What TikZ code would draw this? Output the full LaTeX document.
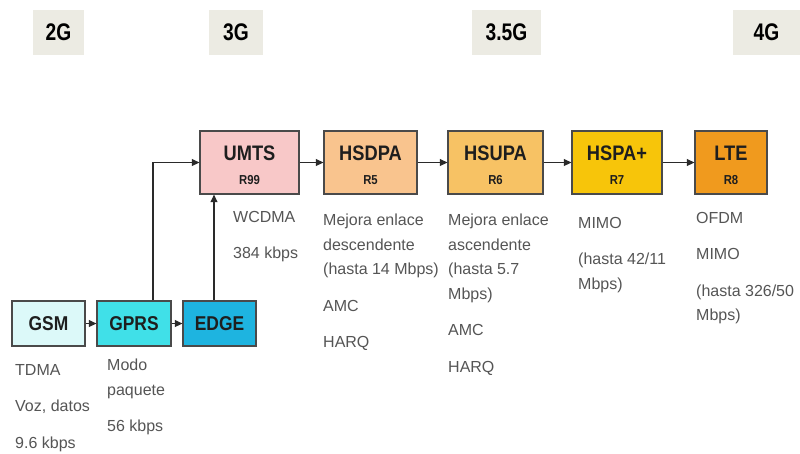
\documentclass[tikz,border=0pt]{standalone}
\usepackage{fontspec}
\setmainfont{Liberation Sans}
\newfontfamily\lblfont[FakeStretch=0.8]{Liberation Sans}
\newfontfamily\ttlfont[FakeStretch=0.87]{Liberation Sans}
\usetikzlibrary{arrows.meta}
\definecolor{genbg}{HTML}{ECEBE3}
\definecolor{boxborder}{HTML}{4A4A4A}
\definecolor{titlec}{HTML}{1E1E1E}
\definecolor{descc}{HTML}{555555}
\definecolor{connc}{HTML}{2A2A2A}
\definecolor{gsmc}{HTML}{DCF9F9}
\definecolor{gprsc}{HTML}{40E0E8}
\definecolor{edgec}{HTML}{1EB4E0}
\definecolor{umtsc}{HTML}{F8C8C8}
\definecolor{hsdpac}{HTML}{F9C48E}
\definecolor{hsupac}{HTML}{F7C264}
\definecolor{hspac}{HTML}{F7C50A}
\definecolor{ltec}{HTML}{F09A1E}
\begin{document}
\begin{tikzpicture}[x=1pt,y=-1pt,
  gen/.style={fill=genbg, minimum width=51pt, minimum height=45pt, inner sep=0pt,
    font=\lblfont\bfseries\fontsize{24}{24}\selectfont, text=black},
  tech/.style={draw=boxborder, line width=1.3pt, inner sep=0pt, minimum height=45pt,
    font=\ttlfont\bfseries\fontsize{20}{20}\selectfont, text=titlec},
  big/.style={draw=boxborder, line width=1.3pt, inner sep=0pt, minimum height=63pt},
  ttl/.style={anchor=base, inner sep=0pt, font=\ttlfont\bfseries\fontsize{21}{21}\selectfont, text=titlec},
  rel/.style={anchor=base, inner sep=0pt, font=\ttlfont\bfseries\fontsize{13}{13}\selectfont, text=titlec},
  desc/.style={anchor=north west, inner sep=0pt, align=left,
    font=\fontsize{16}{24.5}\selectfont, text=descc},
  conn/.style={draw=connc, line width=1.2pt, -{Triangle[length=7.5pt,width=7pt]}}]
\useasboundingbox (0,0) rectangle (800,453);
\fill[white] (0,0) rectangle (800,453);

% generation labels
\node[gen] (g2) at (58.5,32.5) {2G};
\node[gen, minimum width=54pt] (g3) at (236,32.5) {3G};
\node[gen, minimum width=69pt] (g35) at (506.5,32.5) {3.5G};
\node[gen, minimum width=67pt] (g4) at (766.5,32.5) {4G};

% 2G boxes
\node[tech, fill=gsmc, minimum width=73pt] (gsm) at (48.5,323.5) {GSM};
\node[tech, fill=gprsc, minimum width=74pt] (gprs) at (134,323.5) {GPRS};
\node[tech, fill=edgec, minimum width=73pt] (edge) at (219.5,323.5) {EDGE};

% 3G+ boxes
\node[big, fill=umtsc, minimum width=99pt] (umts) at (249.5,162.5) {};
\node[ttl] (umtsT) at (249.5,160) {UMTS};
\node[rel] (umtsR) at (249.5,184.5) {R99};

\node[big, fill=hsdpac, minimum width=93pt] (hsdpa) at (370.5,162.5) {};
\node[ttl] (hsdpaT) at (370.5,160) {HSDPA};
\node[rel] (hsdpaR) at (370.5,184.5) {R5};

\node[big, fill=hsupac, minimum width=95pt] (hsupa) at (495.5,162.5) {};
\node[ttl] (hsupaT) at (495.5,160) {HSUPA};
\node[rel] (hsupaR) at (495.5,184.5) {R6};

\node[big, fill=hspac, minimum width=90pt] (hspa) at (617,162.5) {};
\node[ttl] (hspaT) at (617,160) {HSPA+};
\node[rel] (hspaR) at (617,184.5) {R7};

\node[big, fill=ltec, minimum width=72pt] (lte) at (731,162.5) {};
\node[ttl] (lteT) at (731,160) {LTE};
\node[rel] (lteR) at (731,184.5) {R8};

% connectors
\draw[conn] (gsm.east) -- (gprs.west);
\draw[conn] (gprs.east) -- (edge.west);
\draw[conn] ([xshift=19pt]gprs.north) |- (umts.west);
\draw[conn] ([xshift=-5.5pt]edge.north) -- ([xshift=-5.5pt]edge.north |- umts.south);
\draw[conn] (umts.east) -- (hsdpa.west);
\draw[conn] (hsdpa.east) -- (hsupa.west);
\draw[conn] (hsupa.east) -- (hspa.west);
\draw[conn] (hspa.east) -- (lte.west);

% descriptions
\node[desc] (gsmD) at (15,364) {TDMA\\[12pt]Voz, datos\\[12pt]9.6 kbps};
\node[desc] (gprsD) at (107,359) {Modo\\paquete\\[12pt]56 kbps};
\node[desc] (umtsD) at (233,211) {WCDMA\\[12pt]384 kbps};
\node[desc] (hsdpaD) at (323,214) {Mejora enlace\\descendente\\(hasta 14 Mbps)\\[12pt]AMC\\[12pt]HARQ};
\node[desc] (hsupaD) at (448,214) {Mejora enlace\\ascendente\\(hasta 5.7\\Mbps)\\[12pt]AMC\\[12pt]HARQ};
\node[desc] (hspaD) at (578,217) {MIMO\\[12pt](hasta 42/11\\Mbps)};
\node[desc] (lteD) at (696,212) {OFDM\\[12pt]MIMO\\[12pt](hasta 326/50\\Mbps)};
\end{tikzpicture}
\end{document}
